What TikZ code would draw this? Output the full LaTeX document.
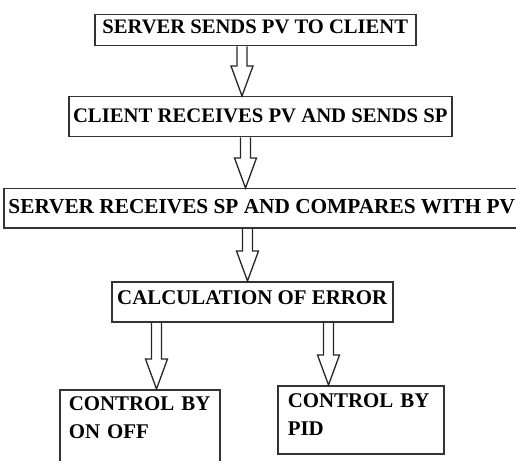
\documentclass[tikz,border=0pt]{standalone}
\usepackage{fontspec}
\setmainfont{Liberation Serif}
\usetikzlibrary{calc}

% hollow block arrow: shaft x, source node, target node
\newcommand{\blockarrow}[3]{%
  \draw[fatarrow] let \p0=(#1,0), \p1=(#2.south), \p2=(#3.north) in
    (\x0-5bp,\y1) -- (\x0-5bp,\y2+30bp) -- (\x0-11bp,\y2+30bp) -- (\x0,\y2)
    -- (\x0+11bp,\y2+30bp) -- (\x0+5bp,\y2+30bp) -- (\x0+5bp,\y1);}

\begin{document}
\begin{tikzpicture}[x=1bp,y=-1bp,
  stepbox/.style={draw=black!80,line width=1.5bp,anchor=north west,inner xsep=0bp,inner ysep=4bp,
    font=\bfseries\fontsize{20.6bp}{28bp}\selectfont},
  fsz/.style={font=\bfseries\fontsize{#1bp}{28bp}\selectfont},
  fatarrow/.style={draw=black!85,line width=1.3bp,line join=miter}]
\useasboundingbox (0,0) rectangle (516,461);

% Boxes
\node[stepbox,minimum width=321bp,text height=15bp,text depth=8bp] (srvsend) at (94,14) {SERVER SENDS PV TO CLIENT};
\node[stepbox,fsz=20.7,minimum width=383bp,text height=22bp,text depth=10bp] (clirecv) at (68,96) {CLIENT RECEIVES PV AND SENDS SP};
\node[stepbox,fsz=21.3,minimum width=516bp,text height=21bp,text depth=10bp] (srvcomp) at (3,188) {SERVER RECEIVES SP AND COMPARES WITH PV};
\node[stepbox,fsz=20.9,minimum width=281bp,text height=19bp,text depth=13bp] (calcerr) at (111,281) {CALCULATION OF ERROR};

% Control boxes
\node[stepbox,fsz=20.9,inner xsep=9bp,text width=142bp,align=left,text height=17bp,text depth=56bp] (ctrlonoff) at (59,389) {CONTROL BY\\ON OFF};
\node[stepbox,fsz=20.9,inner xsep=10bp,text width=146bp,align=left,text height=18bp,text depth=42bp] (ctrlpid) at (277,385) {CONTROL BY\\PID};

% Arrows
\blockarrow{242}{srvsend}{clirecv}
\blockarrow{245.5}{clirecv}{srvcomp}
\blockarrow{247.5}{srvcomp}{calcerr}
\blockarrow{156.5}{calcerr}{ctrlonoff}
\blockarrow{328.5}{calcerr}{ctrlpid}
\end{tikzpicture}
\end{document}
